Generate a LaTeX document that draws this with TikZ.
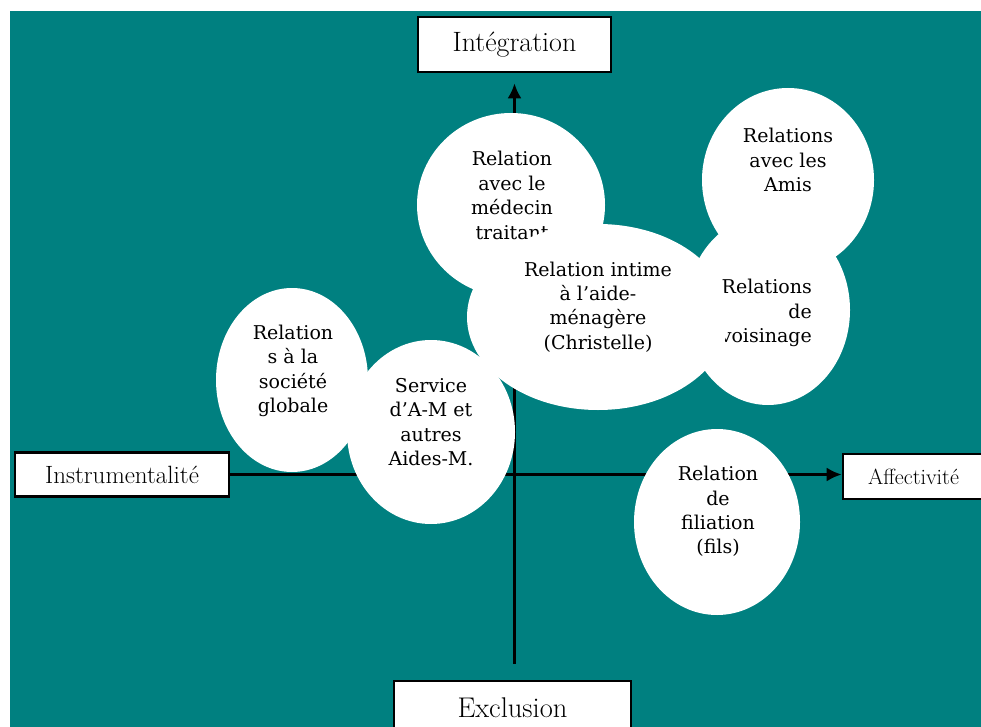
\documentclass[tikz,border=0pt]{standalone}
\usepackage{fontspec}
\newfontfamily\ellfont{DejaVu Serif}
\usetikzlibrary{shapes.geometric,arrows.meta}
\definecolor{bgteal}{RGB}{0,128,128}
\begin{document}
\begin{tikzpicture}[x=1pt,y=-1pt,
  box/.style={draw=black, line width=2.6pt, fill=white, inner sep=0pt, text=black},
  ell/.style={ellipse, fill=white, draw=none, inner sep=0pt},
  lbl/.style={font=\ellfont\fontsize{19}{24.4}\selectfont, align=center, inner sep=0pt, text=black},
  axis/.style={line width=2.8pt, -{Latex[length=15pt,width=14pt]}}]
\useasboundingbox (0,0) rectangle (981,727);
\fill[white] (0,0) rectangle (981,727);
\fill[bgteal] (10,11) rectangle (981,727);

% axis boxes
\node[box, minimum width=193pt, minimum height=55pt, font=\fontsize{28}{32}\selectfont] (integ) at (514.5,44.5) {Intégration};
\node[box, minimum width=214pt, minimum height=44pt, font=\fontsize{25}{29}\selectfont] (instr) at (122,474.5) {Instrumentalité};
\node[box, minimum width=141pt, minimum height=45pt, font=\fontsize{22}{26}\selectfont] (affect) at (913.5,476.5) {Affectivité};
\node[box, minimum width=237pt, minimum height=54pt, font=\fontsize{28.5}{32}\selectfont] (excl) at (512.5,708) {Exclusion};

% axes
\draw[axis, shorten <=16pt, shorten >=10pt] (excl.north -| integ.south) -- (integ.south);
\draw[axis] (instr.east) -- (instr.east -| affect.west);

% ellipses and their texts
\node[ell, minimum width=188pt, minimum height=184pt] (med) at (511,205) {};
\node[lbl] (medT) at (512,195.5) {Relation\\avec le\\médecin\\traitant};

\node[ell, minimum width=172pt, minimum height=184pt] (amis) at (788,180) {};
\node[lbl] (amisT) at (788,160) {Relations\\avec les\\Amis};

\node[ell, minimum width=164pt, minimum height=190pt] (vois) at (768,310) {};
\node[lbl, align=right, anchor=east] (voisT) at (812,313) {Relations\\de\\voisinage};

\node[ell, minimum width=152pt, minimum height=184pt] (soc) at (292,380) {};
\node[lbl] (socT) at (293,371) {Relation\\s à la\\société\\globale};

\node[ell, minimum width=168pt, minimum height=184pt] (serv) at (431,432) {};
\node[lbl] (servT) at (431,422) {Service\\d’A-M et\\autres\\Aides-M.};

\node[ell, minimum width=166pt, minimum height=186pt] (fil) at (717,522) {};
\node[lbl] (filT) at (718,511.5) {Relation\\de\\filiation\\(fils)};

\node[ell, minimum width=262pt, minimum height=186pt] (intime) at (598,317) {};
\node[lbl] (intT) at (598,307) {Relation intime\\à l’aide-\\ménagère\\(Christelle)};
\end{tikzpicture}
\end{document}
